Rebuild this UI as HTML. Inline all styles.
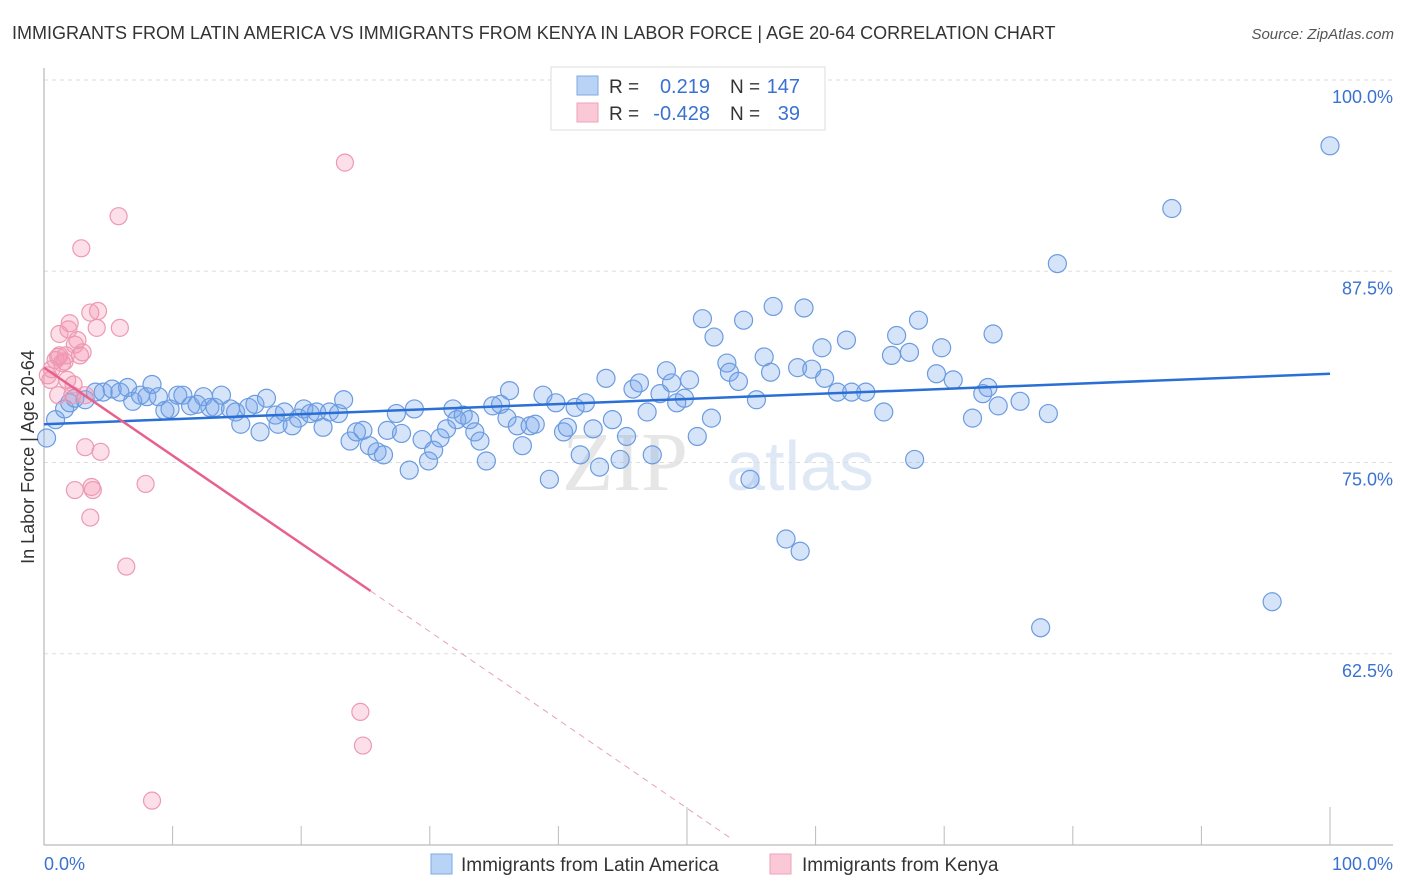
<!DOCTYPE html>
<html><head><meta charset="utf-8"><style>
body{margin:0;background:#fff;font-family:"Liberation Sans",sans-serif;}
svg{display:block}
</style></head><body>
<svg id="c" width="1406" height="892" xmlns="http://www.w3.org/2000/svg">
<text x="12" y="39" font-size="18" fill="#333">IMMIGRANTS FROM LATIN AMERICA VS IMMIGRANTS FROM KENYA IN LABOR FORCE | AGE 20-64 CORRELATION CHART</text>
<text x="1394" y="39" font-size="15" fill="#555" font-style="italic" text-anchor="end">Source: ZipAtlas.com</text>
<g>
<text x="625" y="490" font-size="84" fill="#e6e6e6" font-family="Liberation Serif,serif" text-anchor="middle">ZIP</text>
<text x="800" y="490" font-size="70" fill="#dfe8f5" text-anchor="middle">atlas</text>
</g>
<g id="grid"></g>
<g id="axes"></g>
<g id="pts"></g>
<g id="trend"></g>
<text transform="translate(34,457) rotate(-90)" font-size="18" fill="#333" text-anchor="middle">In Labor Force | Age 20-64</text>
<g>
<rect x="551" y="67" width="274" height="63" fill="#fff" stroke="#ddd"/>
<rect x="577" y="76" width="21" height="19" fill="#b8d3f5" stroke="#7fa8e0"/>
<rect x="577" y="103" width="21" height="19" fill="#fac8d6" stroke="#eda3b8"/>
<text x="609" y="93" font-size="19" fill="#333">R =</text>
<text x="710" y="93" font-size="20" fill="#3a72d0" text-anchor="end">0.219</text>
<text x="730" y="93" font-size="19" fill="#333">N =</text>
<text x="800" y="93" font-size="20" fill="#3a72d0" text-anchor="end">147</text>
<text x="609" y="120" font-size="19" fill="#333">R =</text>
<text x="710" y="120" font-size="20" fill="#3a72d0" text-anchor="end">-0.428</text>
<text x="730" y="120" font-size="19" fill="#333">N =</text>
<text x="800" y="120" font-size="20" fill="#3a72d0" text-anchor="end">39</text>
</g>
<g>
<rect x="431" y="854" width="21" height="20" fill="#b8d3f5" stroke="#7fa8e0"/>
<text x="461" y="871" font-size="19" fill="#333">Immigrants from Latin America</text>
<rect x="770" y="854" width="21" height="20" fill="#fac8d6" stroke="#eda3b8"/>
<text x="802" y="871" font-size="19" fill="#333">Immigrants from Kenya</text>
</g>
</svg>
<script>
const yTicks=[100,87.5,75,62.5];
const yTickLabels=["100.0%","87.5%","75.0%","62.5%"];
const xTickLabels=["0.0%","100.0%"];
const blueX=[0.2,0.9,1.6,2.0,2.4,3.2,4.0,4.6,5.3,5.9,6.5,6.9,7.5,8.0,8.4,8.9,9.4,9.8,10.4,10.8,11.4,11.9,12.4,12.9,13.3,13.8,14.5,14.9,15.3,15.9,16.4,16.8,17.3,18.0,18.2,18.7,19.3,19.8,20.2,20.7,21.2,21.7,22.2,22.9,23.3,23.8,24.3,24.8,25.3,25.9,26.4,26.7,27.4,27.8,28.4,28.8,29.4,29.9,30.3,30.8,31.3,31.8,32.1,32.6,33.1,33.5,33.9,34.4,34.9,35.5,36.0,36.2,36.8,37.2,37.8,38.2,38.8,39.3,39.8,40.4,40.7,41.3,41.7,42.1,42.7,43.2,43.7,44.2,44.8,45.3,45.8,46.3,46.9,47.3,47.9,48.4,48.8,49.2,49.8,50.2,50.8,51.2,51.9,52.1,53.1,53.3,54.0,54.4,54.9,55.4,56.0,56.5,56.7,57.7,58.6,58.8,59.1,59.7,60.5,60.7,61.7,62.4,62.8,63.9,65.3,65.9,66.3,67.3,67.7,68.0,69.4,69.8,70.7,72.2,73.0,73.4,73.8,74.2,75.9,77.5,78.1,78.8,87.7,95.5,100];
const blueY=[76.6,77.8,78.5,78.9,79.2,79.1,79.6,79.6,79.8,79.6,79.9,79.0,79.4,79.3,80.1,79.3,78.4,78.5,79.4,79.4,78.7,78.8,79.3,78.6,78.6,79.4,78.5,78.3,77.5,78.6,78.8,77.0,79.2,78.1,77.5,78.3,77.4,77.9,78.5,78.2,78.3,77.3,78.3,78.2,79.1,76.4,77.0,77.1,76.1,75.7,75.5,77.1,78.2,76.9,74.5,78.5,76.5,75.1,75.8,76.6,77.2,78.5,77.8,78.1,77.8,77.0,76.4,75.1,78.7,78.8,77.9,79.7,77.4,76.1,77.4,77.5,79.4,73.9,78.9,77.0,77.3,78.6,75.5,78.9,77.2,74.7,80.5,77.8,75.2,76.7,79.8,80.2,78.3,75.5,79.5,81.0,80.2,78.9,79.2,80.4,76.7,84.4,77.9,83.2,81.5,80.9,80.3,84.3,73.9,79.1,81.9,80.9,85.2,70.0,81.2,69.2,85.1,81.1,82.5,80.5,79.6,83.0,79.6,79.6,78.3,82.0,83.3,82.2,75.2,84.3,80.8,82.5,80.4,77.9,79.5,79.9,83.4,78.7,79.0,64.2,78.2,88.0,91.6,65.9,95.7];
const pinkX=[0.3,0.5,0.6,0.9,1.1,1.2,1.4,1.6,1.7,1.2,1.9,2.0,2.4,2.6,2.8,3.0,2.2,1.8,2.3,3.2,3.6,4.2,4.1,5.9,2.9,5.8,23.4,3.2,4.4,2.4,3.8,3.7,7.9,3.6,6.4,24.6,24.8,8.4,1.1];
const pinkY=[80.7,80.4,81.1,81.7,81.9,82.0,81.5,81.6,82.0,83.4,83.7,84.1,82.7,83.0,82.0,82.2,79.4,80.4,80.1,79.4,84.8,84.9,83.8,83.8,89.0,91.1,94.6,76.0,75.7,73.2,73.2,73.4,73.6,71.4,68.2,58.7,56.5,52.9,79.4];
const blueTrend=[[0,77.5],[100,80.8]];
const pinkTrendSolid=[[0,81.2],[25.4,66.6]];
const pinkTrendDash=[[25.4,66.6],[53.3,50.5]];

const NS="http://www.w3.org/2000/svg";
const X0=44,X1=1330,Y0=845,YTOP=80;
const xs=v=>X0+(X1-X0)*v/100;
const ys=v=>Y0-(Y0-YTOP)*(v-50)/50;
function mk(tag,attrs,parent){const e=document.createElementNS(NS,tag);for(const k in attrs)e.setAttribute(k,attrs[k]);parent.appendChild(e);return e;}
const grid=document.getElementById('grid'),axes=document.getElementById('axes'),pts=document.getElementById('pts'),trend=document.getElementById('trend');
yTicks.forEach((t,i)=>{
  const l=mk('line',{x1:X0,x2:1393,y1:ys(t),y2:ys(t),stroke:'#ddd','stroke-dasharray':'4,4'},grid);
  
  
  const tx=mk('text',{x:1393,y:ys(t)+23,'font-size':18,fill:'#3a72d0','text-anchor':'end'},axes);
  tx.textContent=yTickLabels[i];
  
  
});
const ya=mk('line',{x1:X0,x2:X0,y1:68,y2:Y0,stroke:'#aaa'},axes);


const xa=mk('line',{x1:X0,x2:1393,y1:Y0,y2:Y0,stroke:'#aaa'},axes);


for(let i=1;i<=10;i++){
  const v=i*10;const big=(i==5||i==10);
  const tk=mk('line',{x1:xs(v),x2:xs(v),y1:big?807:826,y2:Y0,stroke:'#bbb'},axes);
  
  
}
[[0,'start'],[100,'end']].forEach((p,i)=>{
  const tx=mk('text',{x:i==0?xs(0):1393,y:870,'font-size':18,fill:'#3a72d0','text-anchor':p[1]},axes);
  tx.textContent=xTickLabels[i];
  
  
});
blueX.forEach((x,i)=>{
  const c=mk('circle',{cx:xs(x),cy:ys(blueY[i]),r:9,fill:'rgba(120,165,235,0.3)',stroke:'#6b9be0','stroke-width':1.2},pts);
  
  
});
pinkX.forEach((x,i)=>{
  const c=mk('circle',{cx:xs(x),cy:ys(pinkY[i]),r:8.5,fill:'rgba(245,150,180,0.3)',stroke:'#ec9ab2','stroke-width':1.2},pts);
  
  
});
const bt=mk('line',{x1:xs(blueTrend[0][0]),y1:ys(blueTrend[0][1]),x2:xs(blueTrend[1][0]),y2:ys(blueTrend[1][1]),stroke:'#2a6fd6','stroke-width':2.5},trend);


const pt=mk('line',{x1:xs(pinkTrendSolid[0][0]),y1:ys(pinkTrendSolid[0][1]),x2:xs(pinkTrendSolid[1][0]),y2:ys(pinkTrendSolid[1][1]),stroke:'#e8608c','stroke-width':2.5},trend);


const pd=mk('line',{x1:xs(pinkTrendDash[0][0]),y1:ys(pinkTrendDash[0][1]),x2:xs(pinkTrendDash[1][0]),y2:ys(pinkTrendDash[1][1]),stroke:'#e8a0b8','stroke-width':1,'stroke-dasharray':'6,5'},trend);


</script>
</body></html>
